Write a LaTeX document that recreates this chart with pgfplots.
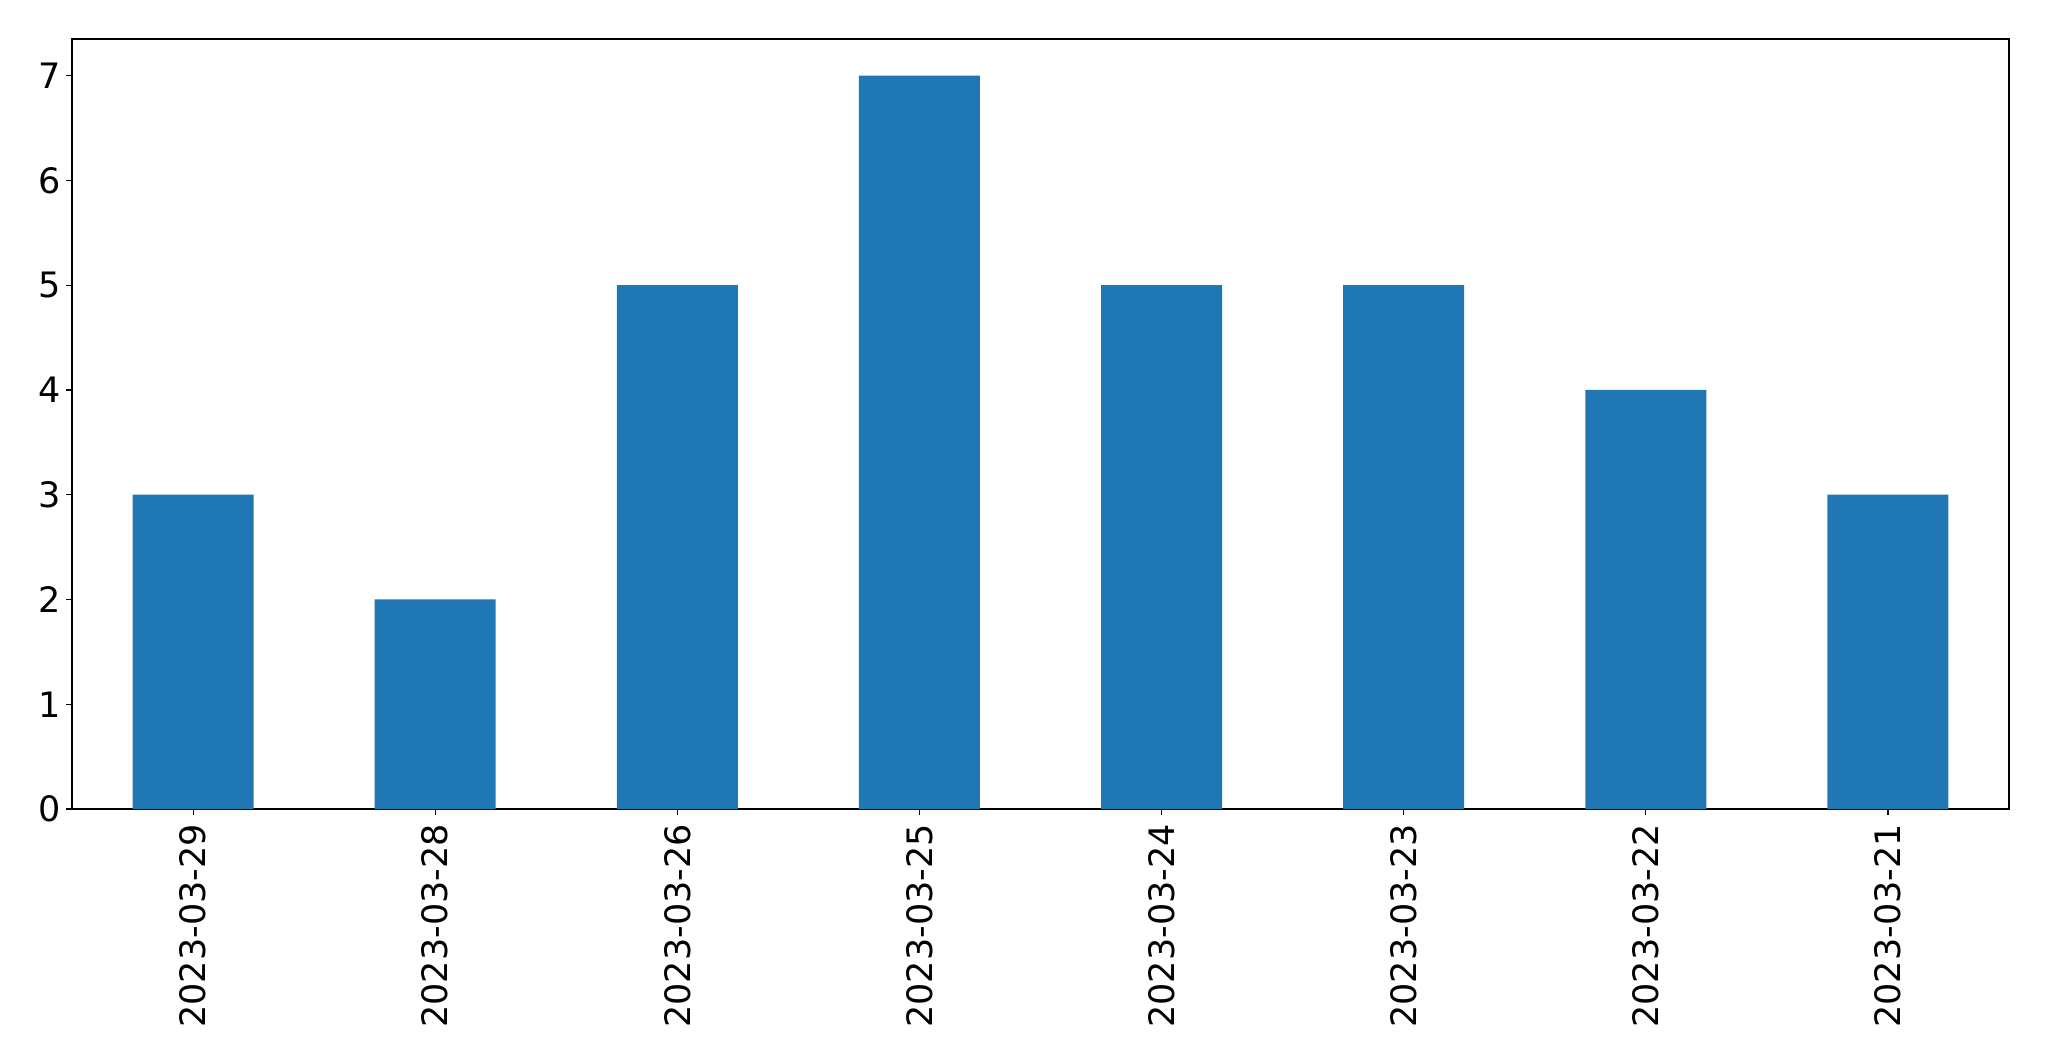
\documentclass[border=0pt]{standalone}
\usepackage{fontspec}
\setmainfont{DejaVu Sans}
\usepackage{pgfplots}
\pgfplotsset{compat=1.18}
\definecolor{mplblue}{HTML}{1F77B4}
\begin{document}
\begin{tikzpicture}
\useasboundingbox (-36pt,-126pt) rectangle (988.5pt,404.5pt);
\begin{axis}[
  at={(0,0)}, anchor=south west,
  scale only axis,
  width=968.5pt, height=385pt,
  xmin=-0.5, xmax=7.5, ymin=0, ymax=7.35,
  axis line style={line width=0.55pt},
  tick style={line width=0.55pt, black},
  tick align=outside,
  major tick length=2.9pt,
  xtick pos=bottom, ytick pos=left,
  xtick={0,1,2,3,4,5,6,7},
  xticklabels={2023-03-29,2023-03-28,2023-03-26,2023-03-25,2023-03-24,2023-03-23,2023-03-22,2023-03-21},
  ytick={0,1,2,3,4,5,6,7},
  /pgf/number format/assume math mode=true,
  ticklabel style={font=\fontsize{17.5}{21}\selectfont},
  xticklabel style={yshift=-4.5pt, rotate=90, anchor=east, inner sep=0pt},
  yticklabel style={inner sep=0pt, xshift=-2.3pt},
  axis on top=false,
]
\addplot[ybar, bar width=0.5, fill=mplblue, draw=none, bar shift=0pt] coordinates {
(0,3) (1,2) (2,5) (3,7) (4,5) (5,5) (6,4) (7,3)
};
\end{axis}
\end{tikzpicture}
\end{document}
